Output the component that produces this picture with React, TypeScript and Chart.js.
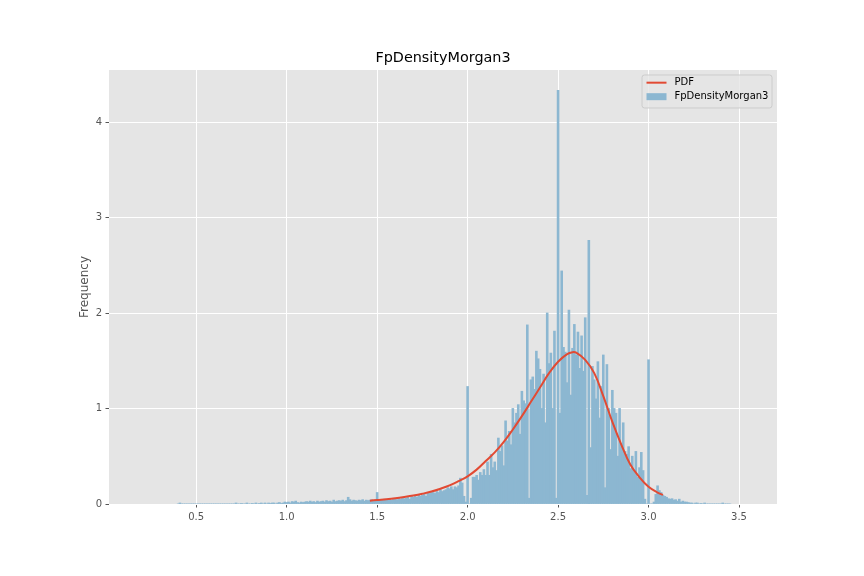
import React, { useEffect, useRef } from "react";
import { Chart, registerables } from "chart.js";

Chart.register(...registerables);

const TITLE = "FpDensityMorgan3";
const Y_LABEL = "Frequency";
const PDF_LABEL = "PDF";
const X_TICKS = [0.5, 1.0, 1.5, 2.0, 2.5, 3.0, 3.5];
const Y_TICKS = [0, 1, 2, 3, 4];

// histogram bins: centres start at BIN_START, spaced BIN_WIDTH apart
const BIN_START = 0.4;
const BIN_WIDTH = 0.01;

const freq040to099 = [
  0, 0.01, 0, 0, 0, 0, 0, 0, 0, 0,
  0, 0, 0, 0, 0, 0, 0, 0, 0, 0,
  0, 0, 0, 0, 0, 0, 0, 0, 0, 0,
  0, 0, 0.01, 0, 0, 0.005, 0, 0, 0.01, 0,
  0, 0.005, 0, 0.01, 0, 0.005, 0.01, 0, 0.01, 0,
  0.01, 0.005, 0.01, 0.01, 0, 0.01, 0.015, 0.005, 0.01, 0.02,
];
const freq100to149 = [
  0.015, 0.02, 0.01, 0.025, 0.02, 0.03, 0.015, 0.01, 0.02, 0.015,
  0.02, 0.025, 0.02, 0.03, 0.02, 0.025, 0.015, 0.03, 0.02, 0.025,
  0.03, 0.02, 0.035, 0.025, 0.03, 0.02, 0.04, 0.025, 0.03, 0.035,
  0.03, 0.04, 0.025, 0.035, 0.07, 0.045, 0.03, 0.04, 0.035, 0.03,
  0.04, 0.035, 0.045, 0.03, 0.04, 0.035, 0.04, 0.045, 0.03, 0.04,
];
const freq150to199 = [
  0.12, 0.03, 0.045, 0.04, 0.05, 0.04, 0.045, 0.05, 0.04, 0.055,
  0.05, 0.045, 0.06, 0.05, 0.065, 0.055, 0.06, 0.07, 0.05, 0.08,
  0.07, 0.085, 0.07, 0.09, 0.08, 0.09, 0.1, 0.08, 0.12, 0.11,
  0.13, 0.12, 0.11, 0.13, 0.12, 0.15, 0.13, 0.14, 0.15, 0.17,
  0.16, 0.18, 0.15, 0.18, 0.17, 0.19, 0.27, 0.22, 0.08, 0.02,
];
const freq200to249 = [
  1.23, 0.0, 0.06, 0.28, 0.28, 0.3, 0.25, 0.33, 0.3, 0.36,
  0.3, 0.44, 0.3, 0.52, 0.38, 0.44, 0.35, 0.69, 0.55, 0.61,
  0.4, 0.87, 0.66, 0.76, 0.62, 1.0, 0.85, 0.95, 1.04, 0.73,
  1.18, 1.08, 1.05, 1.875, 0.06, 1.3, 1.33, 1.2, 1.6, 1.52,
  1.41, 1.0, 1.36, 0.85, 2.0, 1.47, 1.58, 1.0, 1.81, 0.06,
];
const freq250to299 = [
  4.33, 0.95, 2.44, 1.64, 1.59, 1.27, 2.03, 1.14, 1.63, 1.88,
  1.56, 1.8, 1.42, 1.76, 1.39, 1.95, 0.09, 2.76, 0.59, 1.44,
  1.3, 1.1, 1.49, 0.9, 1.23, 1.56, 0.17, 1.46, 1.0, 0.57,
  1.19, 1.0, 0.95, 0.5, 1.0, 0.63, 0.85, 0.55, 0.52, 0.6,
  0.37, 0.5, 0.35, 0.55, 0.28, 0.38, 0.54, 0.35, 0.05, 0.0,
];
const freq300to345 = [
  1.51, 0, 0, 0.02, 0.1, 0.19, 0.14, 0.12, 0.09, 0.08,
  0.07, 0.055, 0.05, 0.055, 0.04, 0.045, 0.03, 0.05, 0.02, 0.03,
  0.02, 0.02, 0.015, 0.01, 0.01, 0, 0.01, 0.01, 0, 0.005,
  0, 0.01, 0, 0, 0, 0, 0, 0, 0, 0,
  0, 0.01, 0, 0, 0, 0,
];

const pdfX = [
  1.46, 1.5, 1.55, 1.6, 1.65, 1.7, 1.75, 1.8, 1.85, 1.9, 1.95, 2.0, 2.05, 2.1,
  2.15, 2.2, 2.25, 2.3, 2.35, 2.4, 2.45, 2.5, 2.55, 2.58, 2.6, 2.65, 2.7, 2.75,
  2.8, 2.85, 2.9, 2.95, 3.0, 3.05, 3.08,
];
const pdfY = [
  0.035, 0.042, 0.05, 0.06, 0.073, 0.088, 0.107, 0.13, 0.16, 0.195, 0.24, 0.29,
  0.36, 0.45, 0.54, 0.65, 0.78, 0.92, 1.07, 1.22, 1.37, 1.49, 1.57, 1.59, 1.585,
  1.51, 1.37, 1.13, 0.86, 0.62, 0.41, 0.28, 0.18, 0.12, 0.095,
];

const X_MIN = 0.018;
const X_MAX = 3.71;
const Y_MAX = 4.545;

const FONT = "DejaVu Sans";
const BAR_COLOR = "#8CB7D1";
const LINE_COLOR = "#E24A33";

const bgPlugin = {
  id: "ggBackground",
  beforeDraw(chart: any) {
    const { ctx, chartArea: a, width, height } = chart;
    ctx.save();
    ctx.fillStyle = "#ffffff";
    ctx.fillRect(0, 0, width, height);
    ctx.fillStyle = "#E5E5E5";
    ctx.fillRect(a.left, a.top, a.right - a.left, a.bottom - a.top);
    ctx.restore();
  },
};

const legendPlugin = {
  id: "ggLegend",
  afterDraw(chart: any) {
    const { ctx, chartArea: a } = chart;
    const ds = chart.data.datasets;
    const w = 130;
    const h = 33;
    const x0 = a.right - 5 - w;
    const y0 = a.top + 5;
    ctx.save();
    ctx.beginPath();
    const r = 2.5;
    ctx.moveTo(x0 + r, y0);
    ctx.lineTo(x0 + w - r, y0);
    ctx.quadraticCurveTo(x0 + w, y0, x0 + w, y0 + r);
    ctx.lineTo(x0 + w, y0 + h - r);
    ctx.quadraticCurveTo(x0 + w, y0 + h, x0 + w - r, y0 + h);
    ctx.lineTo(x0 + r, y0 + h);
    ctx.quadraticCurveTo(x0, y0 + h, x0, y0 + h - r);
    ctx.lineTo(x0, y0 + r);
    ctx.quadraticCurveTo(x0, y0, x0 + r, y0);
    ctx.closePath();
    ctx.fillStyle = "rgba(229,229,229,0.8)";
    ctx.fill();
    ctx.strokeStyle = "#CCCCCC";
    ctx.lineWidth = 1;
    ctx.stroke();

    // PDF line handle
    ctx.strokeStyle = ds[0].borderColor;
    ctx.lineWidth = 2;
    ctx.beginPath();
    ctx.moveTo(x0 + 4.5, y0 + 7.7);
    ctx.lineTo(x0 + 24.5, y0 + 7.7);
    ctx.stroke();

    // histogram patch handle
    ctx.fillStyle = ds[1].backgroundColor;
    ctx.fillRect(x0 + 4.5, y0 + 18.2, 20, 7);

    ctx.fillStyle = "#000000";
    ctx.font = `10px "${FONT}"`;
    ctx.textBaseline = "middle";
    ctx.textAlign = "left";
    ctx.fillText(ds[0].label, x0 + 32.5, y0 + 7.7);
    ctx.fillText(ds[1].label, x0 + 32.5, y0 + 21.7);
    ctx.restore();
  },
};

export default function App() {
  const canvasRef = useRef<HTMLCanvasElement | null>(null);

  useEffect(() => {
    const canvas = canvasRef.current;
    if (!canvas) return;
    Chart.defaults.font.family = FONT;

    const freq = [
      ...freq040to099,
      ...freq100to149,
      ...freq150to199,
      ...freq200to249,
      ...freq250to299,
      ...freq300to345,
    ];
    const barData = freq.map((v, i) => ({
      x: Math.round((BIN_START + i * BIN_WIDTH) * 100) / 100,
      y: v,
    }));
    const pdfData = pdfX.map((x, i) => ({ x, y: pdfY[i] }));

    const chart = new Chart(canvas, {
      type: "bar",
      data: {
        datasets: [
          {
            type: "line",
            label: PDF_LABEL,
            data: pdfData,
            borderColor: LINE_COLOR,
            backgroundColor: LINE_COLOR,
            borderWidth: 2,
            pointRadius: 0,
            tension: 0.4,
            fill: false,
            order: 0,
          } as any,
          {
            type: "bar",
            label: TITLE,
            data: barData,
            backgroundColor: BAR_COLOR,
            borderWidth: 0,
            barPercentage: 1,
            categoryPercentage: 1,
            inflateAmount: 0.4,
            order: 1,
          } as any,
        ],
      },
      options: {
        responsive: false,
        animation: false,
        devicePixelRatio: 1,
        layout: { padding: { left: 0, right: 87, top: 49.7, bottom: 0 } },
        plugins: {
          legend: { display: false },
          tooltip: { enabled: false },
          title: {
            display: true,
            text: TITLE,
            fullSize: false,
            color: "#000000",
            font: { family: FONT, size: 14.4, weight: "normal" },
            padding: { top: 0, bottom: 3 },
          },
        },
        scales: {
          x: {
            type: "linear",
            min: X_MIN,
            max: X_MAX,
            offset: false,
            afterBuildTicks: (s: any) => {
              s.ticks = X_TICKS.map((v) => ({ value: v }));
            },
            afterFit: (s: any) => {
              s.height = 72;
            },
            ticks: {
              callback: (v: any) => Number(v).toFixed(1),
              color: "#555555",
              font: { family: FONT, size: 10 },
              padding: 3.5,
              maxRotation: 0,
              autoSkip: false,
            },
            grid: {
              offset: false,
              color: "#ffffff",
              lineWidth: 1,
              tickColor: "#555555",
              tickLength: 3.5,
              drawTicks: true,
            },
            border: { display: false },
          },
          y: {
            type: "linear",
            min: 0,
            max: Y_MAX,
            afterBuildTicks: (s: any) => {
              s.ticks = Y_TICKS.map((v) => ({ value: v }));
            },
            afterFit: (s: any) => {
              s.width = 109;
            },
            ticks: {
              callback: (v: any) => String(v),
              color: "#555555",
              font: { family: FONT, size: 10 },
              padding: 3.5,
            },
            grid: {
              offset: false,
              color: "#ffffff",
              lineWidth: 1,
              tickColor: "#555555",
              tickLength: 3.5,
              drawTicks: true,
            },
            border: { display: false },
            title: {
              display: true,
              text: Y_LABEL,
              color: "#555555",
              font: { family: FONT, size: 12 },
              padding: { top: 77.8, bottom: 0 },
            },
          },
        },
      } as any,
      plugins: [bgPlugin, legendPlugin],
    });

    return () => chart.destroy();
  }, []);

  return (
    <div style={{ position: "absolute", left: 0, top: 0, width: 864, height: 576 }}>
      <canvas ref={canvasRef} width={864} height={576} style={{ width: 864, height: 576 }} />
    </div>
  );
}
